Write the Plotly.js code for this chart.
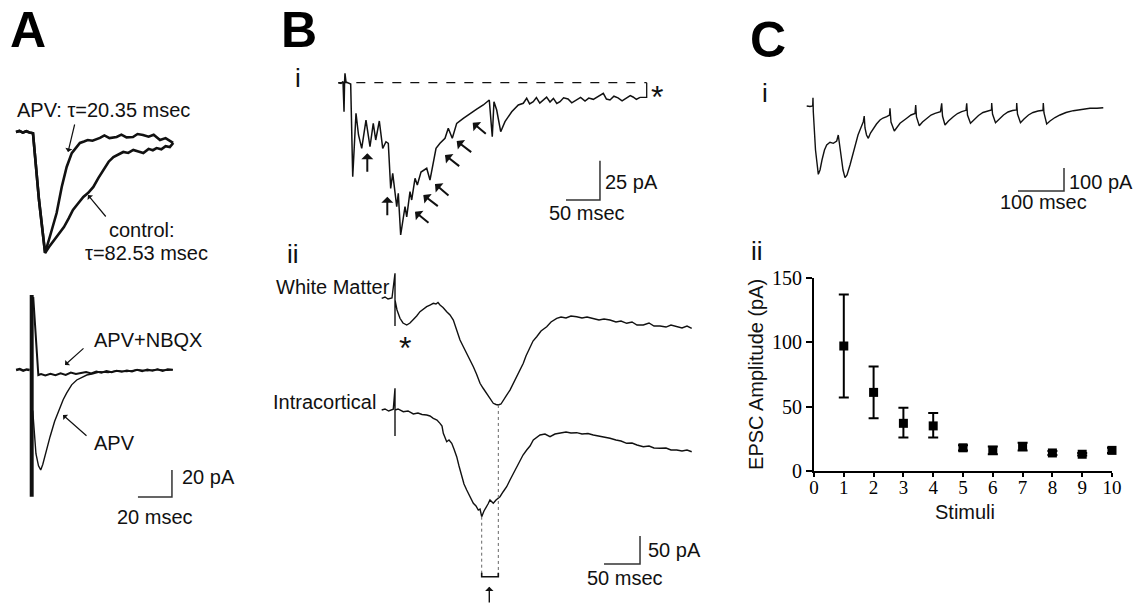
<!DOCTYPE html>
<html><head><meta charset="utf-8">
<script src="https://cdn.plot.ly/plotly-3.0.1.min.js"></script>
<style>html,body{margin:0;padding:0;background:#fff;}#plot{width:1137px;height:604px;}</style>
</head><body><div id="plot"></div>
<script>
// ---------------- DATA ----------------
// Panel A (top): EPSC, control vs APV (time ms, current pA)
const aCtrlT = [-10,-8,-6,-4,-2,0,3.5,7.1,9.5,12.4,15,18.2,21,23.5,26.5,29.6,32.5,35.5,38.5,41.4,44.5,47.3,50,53.1,56,59,62,64.9,68,70.5,72.7,75.5,78,80.5,82.5];
const aCtrlI = [0,0.8,-0.5,0.6,-0.3,-1,-50,-89.6,-85,-80,-76,-70.4,-64,-57.8,-53,-48.1,-45,-40.7,-34,-28.1,-22,-18.5,-16.5,-14.8,-15.5,-13.3,-14.5,-15.6,-12.5,-13.5,-11.9,-12.8,-10.5,-11.2,-8.1];
const aApvT = [-10,-8,-6,-4,-2,0,3.5,7.1,10.5,13.9,16.9,19.8,22.8,25,27.6,30,32.2,35,39.4,42,45,49.2,52,55,58.8,61.5,64.7,68,71,74.7,78,82.4];
const aApvI = [0,0.8,-0.5,0.6,-0.3,-1,-50,-89.6,-75,-60,-40.7,-25.9,-15.6,-12,-8.1,-7,-5.9,-6.5,-4.4,-2.5,-4.5,-3.7,-2,-4,-3.7,-1.5,-2.2,-3.5,-2,-5.9,-4.5,-8.1];
// Panel A (bottom): APV vs APV+NBQX
const aBaseT = [-9.2,-7,-5,-3,-1.2];
const aBaseI = [0,0.7,-0.5,0.4,0];
const aArtT = [-0.4,-0.4,0.4,0.4];
const aArtI = [55.6,-93,-93,55.6];
const aNbqxT = [0.9,3.9,5.5,8,11,14,17,20,23,26,29,32,35,38,41,44,47,50,53,56,59,62,65,68,71,74,77,80,83];
const aNbqxI = [54,-3.7,-3,-4,-2.8,-3.9,-2.5,-3.6,-1.9,-3,-2.2,-1.5,-2.6,-1.2,-2,-0.8,-1.6,-0.5,-1.3,-0.4,-1.1,0.2,-0.9,0.4,-0.6,0.5,-0.7,0.6,0.2];
const aApv2T = [0.6,2.5,4,5.3,6.5,8.5,10.8,13.5,16.6,18.5,20.6,23.5,26.5,29.5,32.4,36,40.2,45,50,56,62,68,74,80,83];
const aApv2I = [-30,-62,-71,-74,-70,-60,-49.4,-38,-27.2,-22,-17,-11,-7.4,-5.5,-3.7,-2.8,-1.3,-1.8,-0.5,-1.2,0.3,-0.6,0.4,-0.3,0.2];
// Panel B i: polysynaptic response
const bIT = [-11.3,-7.4,-4.4,-2.9,-2.1,-1.5,0,3.4,6.9,9.9,14.7,18.4,23.1,29.4,35.3,40.1,43.7,49,54,58.8,62.2,65.7,68.7,74.6,76.9,80.4,86.8,89.3,94.1,96.6,101.5,104.9,110.3,118.7,123.5,132.4,138.2,145.6,150.4,156.3,162.8,172.5,182.4,192.2,201.9,210.7,215.1,217.6,221.6,227.5,233.8,243.7,253.4,260.7,265.7,270,275.4,280,285,290.1,295,300,305,310,314.7,320,326.5,332,339.3,345,351.5,357,363.7,370,378.4,383,388.2,394,400,406,412.8,418,422.1,427,432.4];
const bII = [0,-0.5,0.8,-18.5,0.4,6,0.4,-0.2,-0.8,-59.9,-19.5,-33.3,-41.8,-23.8,-40.8,-25.9,-36.5,-24.4,-41.8,-37.6,-38.6,-67.3,-57.7,-79,-70.4,-97,-79,-85.4,-69.4,-74.7,-60.9,-65.2,-56.9,-54.5,-62,-41.8,-38.6,-35.4,-29,-35.4,-25.9,-22.7,-19.5,-16.9,-14.2,-11,-34.4,-12.1,-17.4,-31.2,-24.8,-18.5,-14.2,-13.1,-9.9,-13.5,-12.1,-9.5,-13,-11,-9.2,-12.3,-10,-13.2,-12.1,-9.6,-10.4,-12.8,-11,-9.4,-11.7,-9.8,-10.6,-8.9,-6.8,-10.4,-11,-8.6,-9.7,-11.5,-9.9,-8.2,-9.1,-10.6,-9.3];
// Panel B ii: White Matter stimulation
const wmT = [-18.5,-13.9,-9.7,-4.2,0,0,0,2.8,6.9,11.1,16.3,20.8,25.4,30.1,34.7,38.9,44,48.6,53.2,56.9,59.7,62.5,66.7,71.8,76.4,81,84.7,87.5,90.3,94.4,99.6,104.2,108.8,113.2,118.1,122.2,127.4,131.9,136.5,140.3,143.5,147.2,150.4,154.2,159.7,163.9,169,173.6,178.2,181.9,187.5,191.7,196.8,202.8,210.7,216.7,224.6,230.6,237.5,244.4,252.4,259.7,266.7,275.4,283.3,290.3,298.6,306.9,313.9,321.8,329.2,336.1,344.9,352.8,359.7,368.1,376.4,383.3,391.3,398.6,405.6,412.1];
const wmI = [0,2.3,-1.3,0.5,44.6,-49.5,-3,-20.9,-35.7,-44.1,-47.7,-44.1,-38.8,-31.6,-23.9,-19.1,-15,-12,-8.9,-10.2,-7.5,-12,-16.4,-23.9,-29.8,-38.8,-53,-62,-74.5,-85.2,-98.2,-110.2,-122.1,-135.2,-151.8,-160.2,-169.6,-179.8,-187.5,-189.6,-190.5,-188.8,-181.6,-174.5,-163.8,-153,-140,-128,-116.1,-103,-86.4,-76.3,-68.6,-58.4,-50.7,-42.3,-35.7,-33.4,-35.2,-31.6,-32.9,-35.2,-33.4,-35.7,-38.8,-37,-38.8,-42.3,-40.5,-44.6,-42.3,-47.7,-47.7,-44.1,-49.5,-49.5,-51.3,-47.7,-50.7,-53,-49.5,-53.6];
// Panel B ii: Intracortical stimulation
const icT = [-18.5,-13.9,-8.8,-2.4,0,0,0,4.2,11.5,18.1,25.4,31.9,37.5,44,48.6,53.2,58.3,62.5,65.3,67.1,69.4,71.8,75,78.8,81.9,85.7,88.9,92.6,95.8,99.6,104.2,108.8,112.5,115.7,118.1,120.4,123.6,127.4,129.2,131.9,136.5,140.3,145.8,150,155.1,159.7,164.3,168.8,173.6,177.8,182.9,187.5,192.1,197.2,201.4,208.3,215.3,222.2,229.2,237.5,244.4,252.4,259.7,268.1,275.4,283.3,290.3,298.6,306.9,313.9,321.8,329.2,336.1,344.9,352.8,359.7,368.1,376.4,383.3,391.3,398.6,405.6,412.1];
const icI = [0,1.8,-1.8,1.3,38.8,-46.4,0,1.8,-3,-1.8,-7.1,-5.4,-8,-8.9,-10.7,-14.8,-17.9,-23.8,-28.6,-41.6,-50,-56.6,-53.6,-59.5,-69.6,-83.4,-100,-119.1,-132.1,-142.9,-155.4,-166.6,-171.4,-178.6,-176.8,-190.5,-180.4,-172.7,-167.9,-160.7,-166.6,-160.7,-154.8,-146.4,-137,-125,-113,-101.8,-89.3,-80.4,-71.4,-64.3,-53.6,-48.2,-44.6,-42.9,-47.7,-42.9,-41.6,-39.3,-41.1,-40.5,-42.9,-42,-44.6,-46.4,-48.2,-50.5,-53.6,-55.4,-59.5,-58.9,-62.5,-65.5,-64.3,-67.9,-68.4,-67.9,-71.4,-71.4,-73.2,-71.4,-74.5];
// Panel C i: 10-pulse train response
const cIT = [-14.3,-7.2,-1.3,-0.7,0,4.8,10.9,14.6,18.9,24.3,29.1,36.3,43.5,50.9,54.3,56.5,60.2,64.6,68.9,73.3,79.8,85.2,90.7,97.2,101.5,108.7,110.7,112.4,115.7,119.6,124.3,130.4,137.4,145,151.5,159.6,165.7,166.7,168.9,176.1,182,188.5,203,212.4,221.1,222.6,224.3,230.4,237.4,246.5,255.9,264.6,276.5,279.1,280.9,286.3,293.9,304.3,313.5,322.6,332,333.5,335.2,341.7,349.3,359.1,368.9,378.7,387.4,387.8,389.6,396.1,403.7,413.5,423.3,433,441.7,442.2,443.9,450.4,458,467.8,477.6,488.5,499.3,500,501.5,507.4,514.6,525.4,536.3,549.3,565.2,581.9,601.5,616.7,630.4];
const cII = [0,-2.2,0,36.1,-24.8,-191.3,-297,-278,-234.8,-191.3,-169.6,-157.8,-162.2,-152.2,-126.1,-160.9,-213,-278.3,-311.7,-300,-256.5,-213,-169.6,-126.1,-104.3,-68.3,-43.5,-95.7,-126.1,-140.4,-117.4,-97,-78.3,-60.9,-52.2,-46.5,-39.1,-10,-69.6,-108.7,-91.3,-75.2,-53.5,-39.1,-32.6,4.3,-47.8,-85.7,-69.6,-53.5,-39.1,-31.7,-24.8,11.7,-43.5,-82.6,-65.2,-46.5,-32.6,-24.8,-18.7,11.7,-39.1,-75.2,-58.7,-41.3,-28.3,-21.7,-17.4,13,-34.8,-72.6,-56.5,-39.1,-26.1,-19.6,-17.4,13,-34.8,-72.6,-56.5,-39.1,-28.3,-21.7,-18.7,13,-30.4,-78.3,-65.2,-50,-39.1,-28.3,-20.4,-15.2,-10,-9.6,-7.4];
// Panel C ii: EPSC amplitude per stimulus
const stimuli = [1,2,3,4,5,6,7,8,9,10];
const epscAmp = [97,61,37,35,18,16,19,14,13,16];
const errPlus = [40,20,12,10,2,3,3,1.5,1,2];
const errMinus = [40,20,11,9,2,3,3,1.5,1,2];
const ampTicks = [0,50,100,150];
const stimTicks = [0,1,2,3,4,5,6,7,8,9,10];
// scale bars
const scaleA = {ms:20, pA:20};
const scaleBi = {ms:50, pA:25};
const scaleBii = {ms:50, pA:50};
const scaleCi = {ms:100, pA:100};

// ---------------- LAYOUT HELPERS ----------------
const W = 1137, H = 604;
const F = 'Liberation Sans, Arial, sans-serif';
function xr(o, s){ return [-o/s, (W-o)/s]; }
function yr(o, s){ return [-(H-o)/s, o/s]; }
function hid(range){ return {domain:[0,1], range:range, visible:false, fixedrange:true, showgrid:false, zeroline:false}; }
const K = '#111';
function line(x, y, xa, ya, w){ return {x:x, y:y, xaxis:xa, yaxis:ya, type:'scatter', mode:'lines', line:{color:K, width:w||1.4}, hoverinfo:'skip', showlegend:false}; }

const traces = [
  line(aCtrlT, aCtrlI, 'x2', 'y2', 2.6),
  line(aApvT, aApvI, 'x2', 'y2', 2.6),
  line(aBaseT, aBaseI, 'x3', 'y3', 2.4),
  line(aArtT, aArtI, 'x3', 'y3', 2.6),
  line(aNbqxT, aNbqxI, 'x3', 'y3', 2.0),
  line(aApv2T, aApv2I, 'x3', 'y3', 1.4),
  line(bIT, bII, 'x4', 'y4', 1.5),
  line(wmT, wmI, 'x5', 'y5', 1.4),
  line(icT, icI, 'x5', 'y6', 1.4),
  line(cIT, cII, 'x6', 'y7', 1.4),
  {x:stimuli, y:epscAmp, xaxis:'x', yaxis:'y', type:'scatter', mode:'markers', cliponaxis:false,
   marker:{symbol:'square', size:9, color:'#000'},
   error_y:{type:'data', symmetric:false, array:errPlus, arrayminus:errMinus, color:'#000', thickness:2, width:5},
   showlegend:false, hoverinfo:'skip'}
];

function txt(t, x, y, o){ return Object.assign({xref:'paper', yref:'paper', x:x/W, y:1-y/H, text:t, showarrow:false, xanchor:'left', yanchor:'middle', font:{family:F, size:20, color:K}}, o||{}); }
function arr(hx, hy, tx, ty, w, s){ return {xref:'paper', yref:'paper', x:hx/W, y:1-hy/H, ax:tx-hx, ay:ty-hy, text:'', showarrow:true, arrowhead:1, arrowsize:s||1, arrowwidth:w||1.2, arrowcolor:K, standoff:0, startstandoff:0}; }

const annotations = [
  txt('<b>A</b>', 28, 30, {xanchor:'center', font:{family:F, size:50, color:'#000'}}),
  txt('<b>B</b>', 299, 30, {xanchor:'center', font:{family:F, size:50, color:'#000'}}),
  txt('<b>C</b>', 768, 40, {xanchor:'center', font:{family:F, size:50, color:'#000'}}),
  // A
  txt('APV: τ=20.35 msec', 15, 110),
  arr(68, 152, 75, 123),
  txt('control:', 107, 230),
  txt('τ=82.53 msec', 83, 253),
  arr(88, 195, 107, 218),
  txt('APV+NBQX', 92, 340),
  arr(65, 365, 85, 347),
  txt('APV', 92, 443),
  arr(63, 415, 88, 437),
  txt('20 pA', 180, 477),
  txt('20 msec', 115, 517),
  // B i
  txt('i', 298, 78, {xanchor:'center', font:{family:F, size:26, color:K}}),
  txt('*', 657, 97, {xanchor:'center', font:{family:F, size:32, color:K}}),
  txt('25 pA', 603, 182),
  txt('50 msec', 547, 213),
  arr(367.3, 153.3, 367.3, 173.3, 2, 1),
  arr(387.3, 196.7, 387.3, 216.7, 2, 1),
  arr(415, 211.7, 430, 224, 2, 1),
  arr(423.3, 195, 439.3, 207.3, 2, 1),
  arr(435, 184, 450, 196.7, 2, 1),
  arr(445, 155, 460.7, 167.3, 2, 1),
  arr(456.7, 141, 472.7, 153.3, 2, 1),
  arr(472.7, 122.7, 487.3, 135, 2, 1),
  // B ii
  txt('ii', 293, 254, {xanchor:'center', font:{family:F, size:26, color:K}}),
  txt('White Matter', 274, 287),
  txt('*', 405, 348, {xanchor:'center', font:{family:F, size:32, color:K}}),
  txt('Intracortical', 271, 402),
  txt('50 pA', 646, 550),
  txt('50 msec', 585, 578),
  arr(489.3, 586.7, 489.3, 604, 1.4, 1),
  // C
  txt('i', 765, 93, {xanchor:'center', font:{family:F, size:26, color:K}}),
  txt('100 pA', 1067, 182),
  txt('100 msec', 998, 202),
  txt('ii', 757, 251, {xanchor:'center', font:{family:F, size:26, color:K}}),
  txt('Stimuli', 965, 512, {xanchor:'center'})
];

function bar(xa, ya, x0, y0, sc){
  return {type:'path', xref:xa, yref:ya, path:'M '+x0+','+y0+' L '+(x0+sc.ms)+','+y0+' L '+(x0+sc.ms)+','+(y0+sc.pA), line:{color:'#333', width:1.5}};
}
const shapes = [
  bar('x3', 'y3', 62.5, -94.1, scaleA),
  bar('x4', 'y4', 323.5, -74.7, scaleBi),
  bar('x5', 'y6', 290.3, -275, scaleBii),
  bar('x6', 'y7', 445, -369.6, scaleCi),
  // B i dashed baseline and bracket
  {type:'line', xref:'x4', yref:'y4', x0:bIT[0], x1:442.2, y0:0, y1:0, line:{color:K, width:1.3, dash:'dash'}},
  {type:'path', xref:'x4', yref:'y4', path:'M 432.4,-9.3 L 442.2,-9.3 L 442.2,0', line:{color:K, width:1.3}},
  // B ii dashed latency markers and bracket
  {type:'line', xref:'x5', yref:'y5', x0:143.5, x1:143.5, y0:-190.5, y1:-497.1, line:{color:'#666', width:1, dash:'dot'}},
  {type:'line', xref:'x5', yref:'y6', x0:120.4, x1:120.4, y0:-190.5, y1:-297.7, line:{color:'#666', width:1, dash:'dot'}},
  {type:'path', xref:'x5', yref:'y6', path:'M 120.4,-290.5 L 120.4,-297.7 L 143.5,-297.7 L 143.5,-290.5', line:{color:K, width:1.6}}
];

const layout = {
  width:W, height:H, margin:{l:0, r:0, t:0, b:0, pad:0},
  paper_bgcolor:'#fff', plot_bgcolor:'rgba(0,0,0,0)', showlegend:false,
  font:{family:F, color:K},
  xaxis:{domain:[814/W, 1112/W], range:[0,10], anchor:'y', tickvals:stimTicks, ticks:'outside', ticklen:4, tickwidth:2, tickcolor:'#000',
         ticklabelstandoff:-6,
         showline:true, linewidth:2, linecolor:'#000', showgrid:false, zeroline:false, fixedrange:true,
         tickfont:{family:'Liberation Serif, Times New Roman, serif', size:19, color:'#000'}},
  yaxis:{domain:[1-471/H, 1-277.7/H], range:[0,150], anchor:'x', tickvals:ampTicks, ticks:'outside', ticklen:6, tickwidth:2, tickcolor:'#000',
         showline:true, linewidth:2, linecolor:'#000', showgrid:false, zeroline:false, fixedrange:true,
         tickfont:{family:'Liberation Serif, Times New Roman, serif', size:20, color:'#000'},
         title:{text:'EPSC Amplitude (pA)', font:{family:F, size:20, color:K}, standoff:3}},
  xaxis2: hid(xr(33, 1.7)),    yaxis2: hid(yr(132, 1.35)),
  xaxis3: hid(xr(31.7, 1.7)),  yaxis3: hid(yr(370, 1.35)),
  xaxis4: hid(xr(346, 0.68)),  yaxis4: hid(yr(82.7, 1.57)),
  xaxis5: hid(xr(395, 0.72)),  yaxis5: hid(yr(298.3, 0.56)), yaxis6: hid(yr(410, 0.56)),
  xaxis6: hid(xr(813.3, 0.46)), yaxis7: hid(yr(106, 0.23)),
  annotations: annotations,
  shapes: shapes
};
Plotly.newPlot('plot', traces, layout, {staticPlot:true, displayModeBar:false});
</script>
</body></html>
